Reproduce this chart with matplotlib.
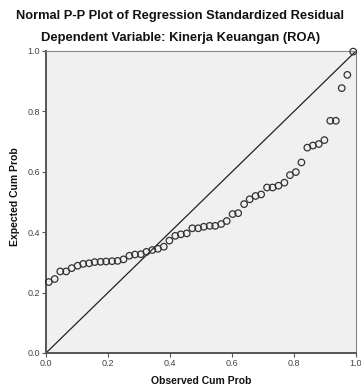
# Normal P-P plot of regression standardized residual (SPSS style)
import matplotlib
matplotlib.use("Agg")
import matplotlib.pyplot as plt

plt.rcParams['font.family'] = ['Liberation Sans', 'DejaVu Sans']

# observed vs expected cumulative probabilities
observed = [0.009, 0.028, 0.046, 0.065, 0.083, 0.102, 0.120, 0.139, 0.157, 0.176,
            0.194, 0.213, 0.231, 0.250, 0.269, 0.287, 0.306, 0.324, 0.343, 0.361,
            0.380, 0.398, 0.417, 0.435, 0.454, 0.472, 0.491, 0.509, 0.528, 0.546,
            0.565, 0.583, 0.602, 0.620, 0.639, 0.657, 0.676, 0.694, 0.713, 0.731,
            0.750, 0.769, 0.787, 0.806, 0.824, 0.843, 0.861, 0.880, 0.898, 0.917,
            0.935, 0.954, 0.972, 0.991]
expected = [0.235, 0.245, 0.270, 0.270, 0.281, 0.289, 0.295, 0.297, 0.301, 0.302,
            0.303, 0.304, 0.305, 0.310, 0.322, 0.326, 0.327, 0.335, 0.341, 0.345,
            0.352, 0.372, 0.388, 0.393, 0.396, 0.413, 0.413, 0.418, 0.421, 0.421,
            0.427, 0.437, 0.460, 0.463, 0.493, 0.509, 0.520, 0.525, 0.548, 0.548,
            0.554, 0.564, 0.589, 0.599, 0.631, 0.680, 0.687, 0.692, 0.705, 0.769,
            0.769, 0.877, 0.921, 0.998]

ticks = [0.0, 0.2, 0.4, 0.6, 0.8, 1.0]
tick_labels = ['0.0', '0.2', '0.4', '0.6', '0.8', '1.0']

fig = plt.figure(figsize=(3.61, 3.85), dpi=100)
ax = fig.add_axes([46 / 361, 32 / 385, 310 / 361, 302 / 385])
ax.set_facecolor('#f0f0f0')

# reference diagonal
ax.plot([0, 1], [0, 1], color='#222222', linewidth=0.9, zorder=2)
ax.scatter(observed, expected, s=22, facecolors='none', edgecolors='#333333',
           linewidths=0.9, zorder=3, clip_on=False)

ax.set_xlim(0, 1)
ax.set_ylim(0, 1)
ax.set_xticks(ticks)
ax.set_xticklabels(tick_labels)
ax.set_yticks(ticks)
ax.set_yticklabels(tick_labels)
ax.tick_params(direction='out', length=3, width=0.8, color='#555555',
               labelsize=6.5, labelcolor='#444444', pad=1.5)

for side in ['left', 'bottom']:
    ax.spines[side].set_color('#555555')
    ax.spines[side].set_linewidth(1.4)
for side in ['top', 'right']:
    ax.spines[side].set_color('#888888')
    ax.spines[side].set_linewidth(0.8)

fig.text(0.5, 1 - 16 / 385, 'Normal P-P Plot of Regression Standardized Residual',
         ha='center', va='center', fontsize=9.3, fontweight='bold', color='#111111')
fig.text(0.5, 1 - 38 / 385, 'Dependent Variable: Kinerja Keuangan (ROA)',
         ha='center', va='center', fontsize=9.4, fontweight='bold', color='#111111')
fig.text(15 / 361, 1 - 197 / 385, 'Expected Cum Prob', rotation=90,
         ha='center', va='center', fontsize=7.5, fontweight='bold', color='#111111')
fig.text(201 / 361, 1 - 381 / 385, 'Observed Cum Prob',
         ha='center', va='center', fontsize=7.5, fontweight='bold', color='#111111')

fig.savefig('out.png', dpi=100)
